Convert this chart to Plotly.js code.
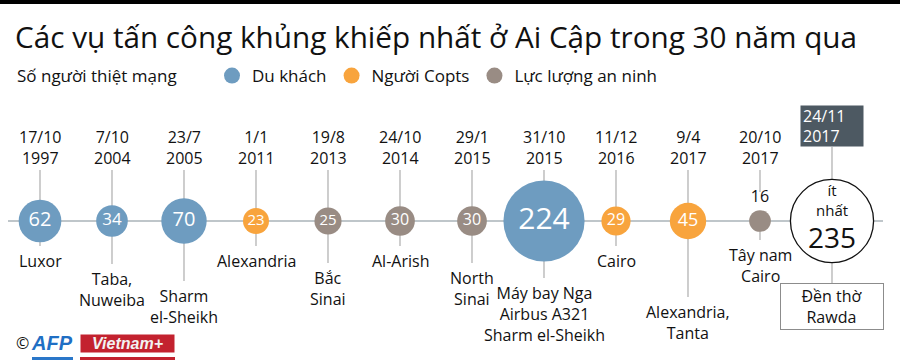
<!DOCTYPE html>
<html><head><meta charset="utf-8">
<script src="https://cdn.plot.ly/plotly-3.0.1.min.js"></script>
<style>html,body{margin:0;padding:0;background:#fff}#chart{width:900px;height:360px}</style>
</head><body><div id="chart"></div>
<script>
// ---- data ----
const titleText = 'Các vụ tấn công khủng khiếp nhất ở Ai Cập trong 30 năm qua';
const legendTitle = 'Số người thiệt mạng';
const dates = ['17/10<br>1997','7/10<br>2004','23/7<br>2005','1/1<br>2011','19/8<br>2013','24/10<br>2014','29/1<br>2015','31/10<br>2015','11/12<br>2016','9/4<br>2017','20/10<br>2017','24/11<br>2017'];
const places = ['Luxor','Taba,<br>Nuweiba','Sharm<br>el-Sheikh','Alexandria','Bắc<br>Sinai','Al-Arish','North<br>Sinai','Máy bay Nga<br>Airbus A321<br>Sharm el-Sheikh','Cairo','Alexandria,<br>Tanta','Tây nam<br>Cairo','Đền thờ<br>Rawda'];
const deaths = [62,34,70,23,25,30,30,224,29,45,16,235];
const victimGroup = ['tourist','tourist','tourist','copt','security','security','security','tourist','copt','copt','security','other'];
const groups = ['tourist','copt','security'];
const groupNames = ['Du khách','Người Copts','Lực lượng an ninh'];
const atLeastLabel = 'ít<br>nhất';

// ---- layout / style ----
const FONT = 'Open Sans, Noto Sans, sans-serif';
const groupColors = {tourist:'#6e9cc0', copt:'#f8a43d', security:'#998c84'};
const SLOT0 = 40, SLOTW = 72;           // pixel of first slot and slot spacing
const LINE_Y = 221;                     // timeline pixel row
const SIZEREF = 0.034;                  // visual diameter = sqrt(v / SIZEREF)
const placeRowY = [259,277,294,259,276,259,276,291,259,310,253,306]; // first line centre of place labels
const pxToX = p => (p - SLOT0) / SLOTW;
const idx = deaths.map((_, i) => i);
const diam = v => Math.sqrt(v / SIZEREF);
const numFont = v => Math.round(8 + 0.27 * diam(v));

const traces = groups.map((g, gi) => {
  const ii = idx.filter(i => victimGroup[i] === g);
  return {
    type: 'scatter', mode: 'markers+text', name: groupNames[gi],
    x: ii, y: ii.map(() => LINE_Y),
    marker: {size: ii.map(i => deaths[i]), sizemode: 'area', sizeref: 2 * SIZEREF, opacity: 1,
             color: groupColors[g], line: {width: 0}},
    text: ii.map(i => String(deaths[i])),
    textposition: ii.map(i => diam(deaths[i]) < 24 ? 'top center' : 'middle center'),
    textfont: {family: FONT, size: ii.map(i => diam(deaths[i]) < 24 ? 16 : numFont(deaths[i])),
               color: ii.map(i => diam(deaths[i]) < 24 ? '#111' : '#fff')},
    hoverinfo: 'skip', cliponaxis: false
  };
});
const oi = idx.filter(i => victimGroup[i] === 'other');
traces.push({
  type: 'scatter', mode: 'markers', showlegend: false,
  x: oi, y: oi.map(() => LINE_Y),
  marker: {size: oi.map(i => deaths[i]), sizemode: 'area', sizeref: 2 * SIZEREF, opacity: 1,
           color: '#fff', line: {width: 1.3, color: '#111'}},
  hoverinfo: 'skip', cliponaxis: false
});

const shapes = [];
// top black bar
shapes.push({type:'rect', xref:'paper', yref:'paper', x0:0, x1:1, y0:1-4/360, y1:1, fillcolor:'#000', line:{width:0}});
// timeline
shapes.push({type:'line', xref:'x', yref:'y', x0:pxToX(8), x1:pxToX(883), y0:LINE_Y, y1:LINE_Y, line:{color:'#aab3b9', width:1.5}, layer:'below'});
idx.forEach(i => {
  const last = i === idx.length - 1;
  const small = diam(deaths[i]) < 24;
  const topStart = last ? 147 : 170;
  const topEnd = small ? 192 : LINE_Y;
  shapes.push({type:'line', xref:'x', yref:'y', x0:i, x1:i, y0:topStart, y1:topEnd, line:{color:'#b3b3b3', width:1.3}, layer:'below'});
  const botEnd = last ? 283 : placeRowY[i] - 13;
  shapes.push({type:'line', xref:'x', yref:'y', x0:i, x1:i, y0:LINE_Y, y1:botEnd, line:{color:'#b3b3b3', width:1.3}, layer:'below'});
});
// footer strip (cut-off second logo row)
shapes.push({type:'rect', xref:'paper', yref:'y', x0:32/900, x1:73/900, y0:357, y1:360, fillcolor:'#2a77c9', line:{width:0}});
shapes.push({type:'rect', xref:'paper', yref:'y', x0:80/900, x1:175/900, y0:357, y1:360, fillcolor:'#c3222f', line:{width:0}});

const annotations = [];
// legend heading
annotations.push({x:15/900, y:75, xref:'paper', yref:'y', xanchor:'left', text:legendTitle, showarrow:false,
  font:{family:FONT, size:17, color:'#111'}});
idx.forEach(i => {
  const last = i === idx.length - 1;
  if (last) {
    annotations.push({x:i, y:126, xref:'x', yref:'y', text:dates[i], showarrow:false, align:'left',
      width:58, height:36, bgcolor:'#4d5962', borderpad:2, font:{family:FONT, size:16, color:'#fff'}});
    annotations.push({x:i, y:306.5, xref:'x', yref:'y', text:places[i], showarrow:false,
      width:98, height:41, bordercolor:'#8c8c8c', borderwidth:1, borderpad:2, bgcolor:'#fff',
      font:{family:FONT, size:16, color:'#111'}});
    annotations.push({x:i, y:200, xref:'x', yref:'y', text:atLeastLabel, showarrow:false,
      font:{family:FONT, size:15, color:'#111'}});
    annotations.push({x:i, y:237, xref:'x', yref:'y', text:String(deaths[i]), showarrow:false,
      font:{family:FONT, size:28, color:'#111'}});
  } else {
    annotations.push({x:i, y:147, xref:'x', yref:'y', text:dates[i], showarrow:false,
      font:{family:FONT, size:16, color:'#111'}});
    annotations.push({x:i, y:placeRowY[i] - 11, xref:'x', yref:'y', yanchor:'top', text:places[i], showarrow:false,
      font:{family:FONT, size:16, color:'#111'}});
  }
});
// credits
annotations.push({x:14/900, y:343, xref:'paper', yref:'y', xanchor:'left', text:'©', showarrow:false, font:{family:FONT, size:16, color:'#111'}});
annotations.push({x:29/900, y:343, xref:'paper', yref:'y', xanchor:'left', text:'<b><i>AFP</i></b>', showarrow:false, font:{family:'Liberation Sans, Arial, sans-serif', size:20, color:'#1f6fc4'}});
annotations.push({x:127.5/900, y:343.5, xref:'paper', yref:'y', xanchor:'center', text:'<b><i>Vietnam+</i></b>', showarrow:false, width:91, height:15, bgcolor:'#c3222f', borderpad:1, font:{family:'Liberation Sans, Arial, sans-serif', size:16, color:'#f2f2f2'}});

const layout = {
  width: 900, height: 360, margin: {l:0, r:0, t:0, b:0},
  paper_bgcolor: '#fff', plot_bgcolor: '#fff',
  font: {family: FONT, color: '#111'},
  title: {text: titleText, x: 15/900, xanchor: 'left', xref: 'paper', y: 1 - 38/360, yanchor: 'middle', yref: 'paper',
          font: {family: FONT, size: 29.7, color: '#111'}},
  xaxis: {range: [pxToX(0), pxToX(900)], visible: false, fixedrange: true},
  yaxis: {range: [360, 0], visible: false, fixedrange: true},
  showlegend: true,
  legend: {orientation: 'h', x: 212/900, xanchor: 'left', y: 1 - 58/360, yanchor: 'top',
           font: {family: FONT, size: 17, color: '#111'}, itemsizing: 'trace', bgcolor: 'rgba(0,0,0,0)'},
  shapes: shapes, annotations: annotations
};
Plotly.newPlot('chart', traces, layout, {staticPlot: true, displayModeBar: false});
</script>
</body></html>
